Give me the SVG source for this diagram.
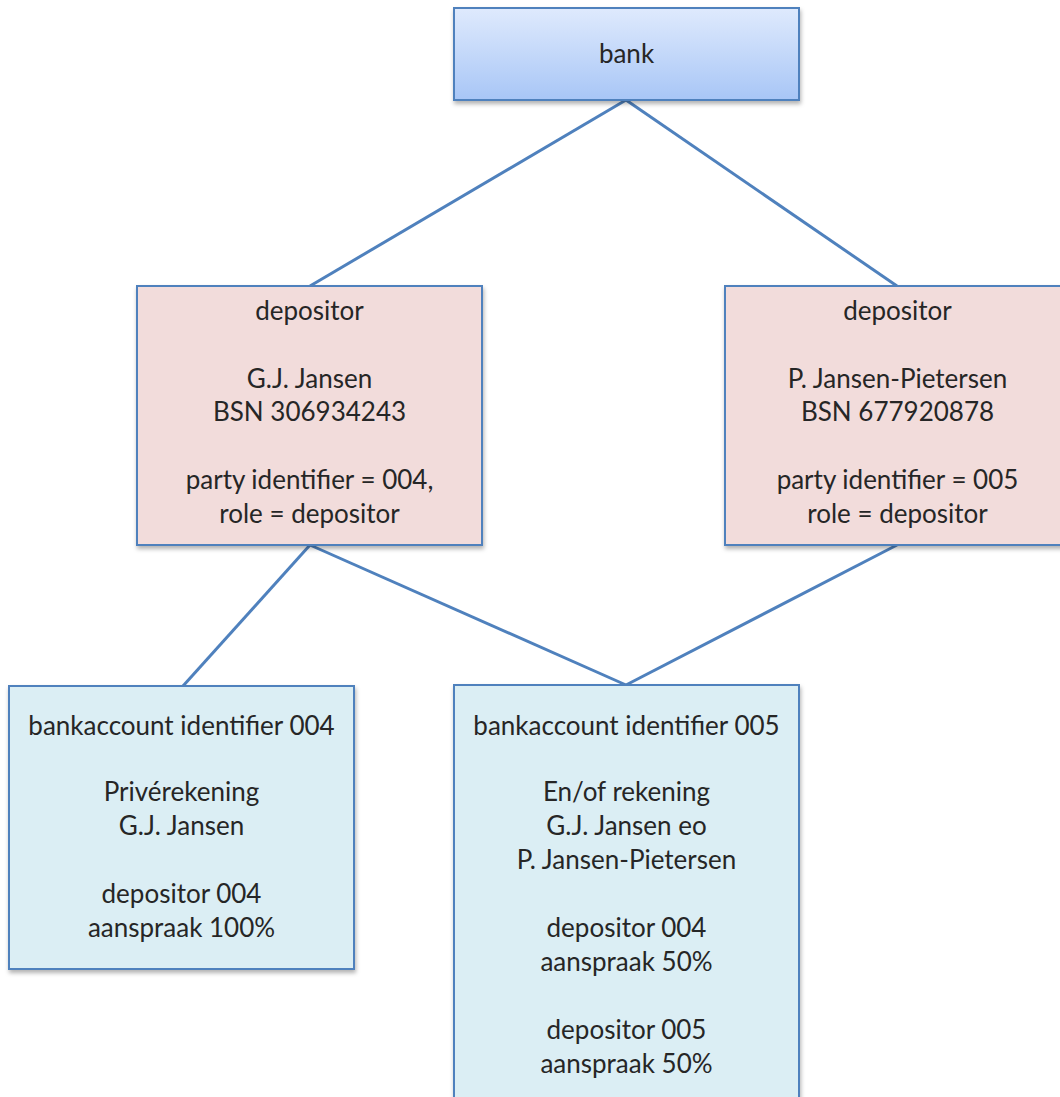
<svg xmlns="http://www.w3.org/2000/svg" width="1060" height="1097" viewBox="0 0 1060 1097">
<defs>
<linearGradient id="bankGrad" x1="0" y1="0" x2="0" y2="1">
<stop offset="0" stop-color="#dfeafd"/>
<stop offset="1" stop-color="#a8c6f6"/>
</linearGradient>
<filter id="shadow" x="-5%" y="-5%" width="112%" height="115%">
<feDropShadow dx="1" dy="3" stdDeviation="2" flood-color="#000" flood-opacity="0.3"/>
</filter>
</defs>
<style>
.box{stroke:#4f81bd;stroke-width:2;filter:url(#shadow)}
.pink{fill:#f2dcdb}
.cyan{fill:#dbeef4}
.t{font-family:Lato,"Open Sans","Liberation Sans",sans-serif;font-size:26px;fill:#262626;text-anchor:middle}
.conn{stroke:#4f81bd;stroke-width:3;fill:none}
</style>
<rect x="0" y="0" width="1060" height="1097" fill="#ffffff"/>
<g id="connectors">
<line class="conn" x1="626" y1="100" x2="310" y2="286"/>
<line class="conn" x1="626" y1="100" x2="897" y2="286"/>
<line class="conn" x1="310" y1="545" x2="183" y2="686"/>
<line class="conn" x1="310" y1="545" x2="626" y2="685"/>
<line class="conn" x1="897" y1="545" x2="626" y2="685"/>
</g>
<g id="bank">
<rect class="box" x="454" y="8" width="345" height="92" fill="url(#bankGrad)"/>
<text class="t" x="626.5" y="63">bank</text>
</g>
<g id="depositor1">
<rect class="box pink" x="137" y="286" width="345" height="259"/>
<text class="t" x="309.5" y="320">depositor</text>
<text class="t" x="309.5" y="388">G.J. Jansen</text>
<text class="t" x="309.5" y="421">BSN 306934243</text>
<text class="t" x="309.5" y="489">party identifier = 004,</text>
<text class="t" x="309.5" y="523">role = depositor</text>
</g>
<g id="depositor2">
<rect class="box pink" x="725" y="286" width="345" height="259"/>
<text class="t" x="897.5" y="320">depositor</text>
<text class="t" x="897.5" y="388">P. Jansen-Pietersen</text>
<text class="t" x="897.5" y="421">BSN 677920878</text>
<text class="t" x="897.5" y="489">party identifier = 005</text>
<text class="t" x="897.5" y="523">role = depositor</text>
</g>
<g id="account004">
<rect class="box cyan" x="9" y="686" width="345" height="283"/>
<text class="t" x="181.5" y="735">bankaccount identifier 004</text>
<text class="t" x="181.5" y="801">Privérekening</text>
<text class="t" x="181.5" y="835">G.J. Jansen</text>
<text class="t" x="181.5" y="903">depositor 004</text>
<text class="t" x="181.5" y="937">aanspraak 100%</text>
</g>
<g id="account005">
<rect class="box cyan" x="454" y="685" width="345" height="430"/>
<text class="t" x="626.5" y="735">bankaccount identifier 005</text>
<text class="t" x="626.5" y="801">En/of rekening</text>
<text class="t" x="626.5" y="835">G.J. Jansen eo</text>
<text class="t" x="626.5" y="869">P. Jansen-Pietersen</text>
<text class="t" x="626.5" y="937">depositor 004</text>
<text class="t" x="626.5" y="971">aanspraak 50%</text>
<text class="t" x="626.5" y="1039">depositor 005</text>
<text class="t" x="626.5" y="1073">aanspraak 50%</text>
</g>
</svg>
